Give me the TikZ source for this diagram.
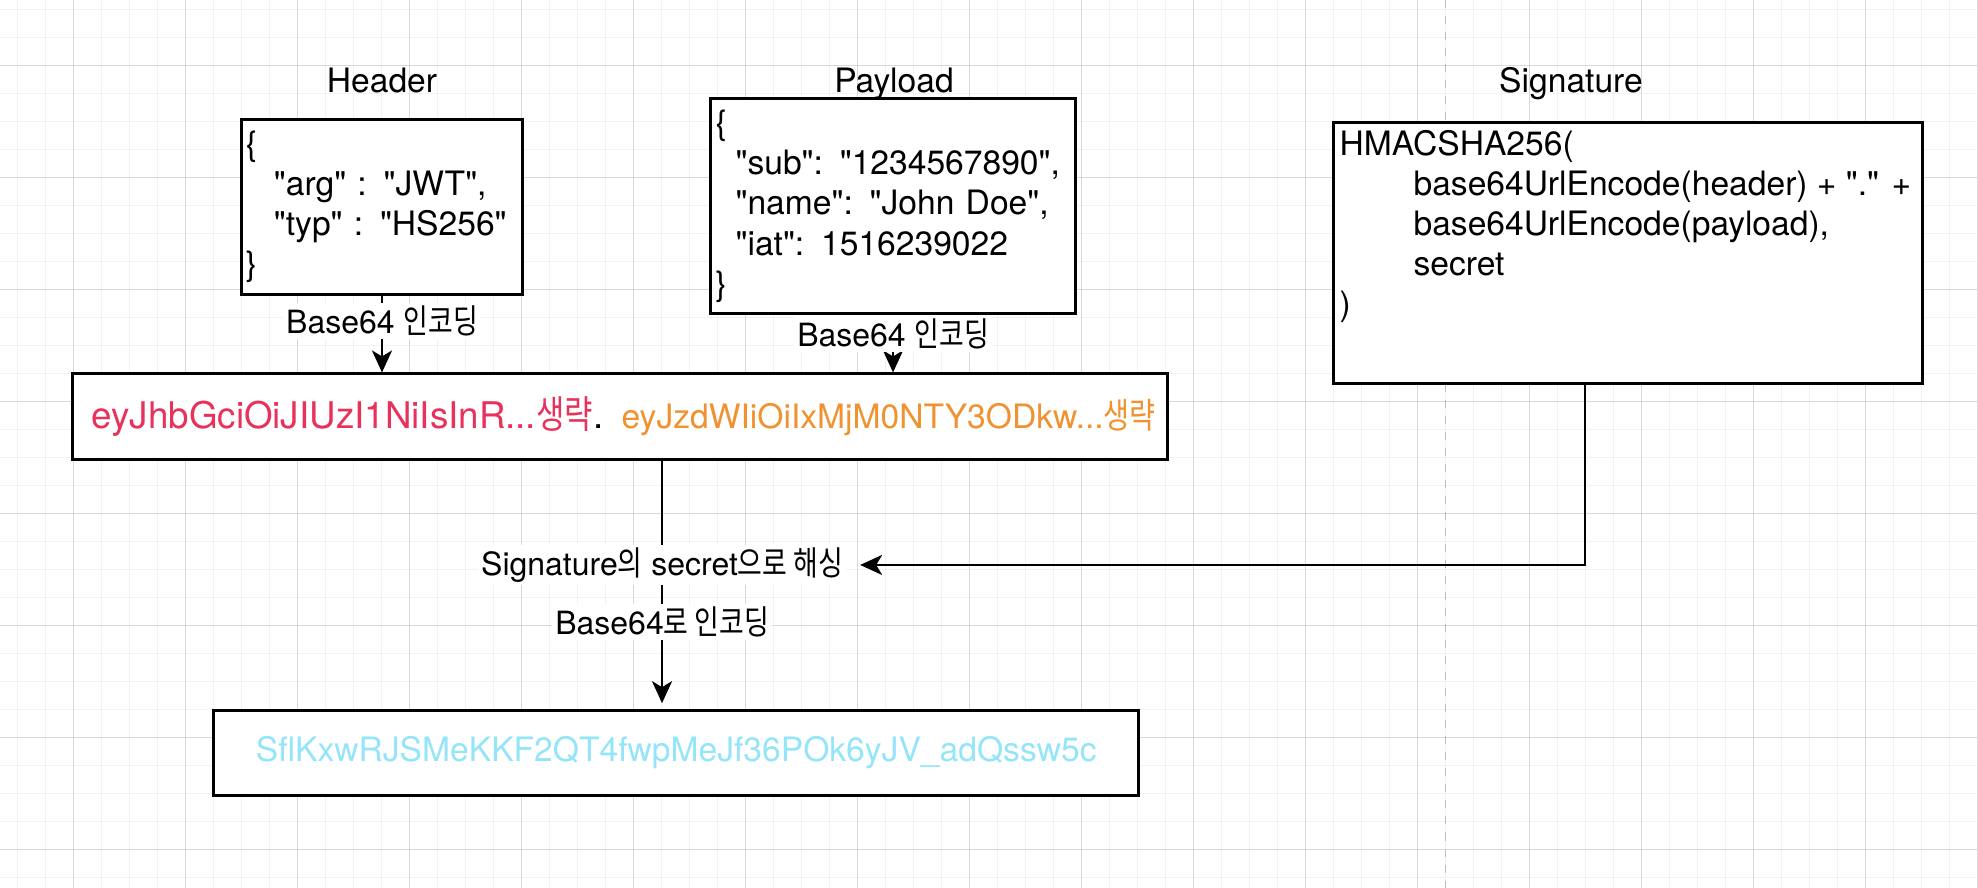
\documentclass[tikz,border=0pt]{standalone}
\usepackage{fontspec}
\setmainfont{TeX Gyre Heros}
\newfontfamily\kr[Scale=1.05]{Noto Sans CJK KR}
\usetikzlibrary{arrows.meta}

\definecolor{gridminor}{HTML}{F2F2F2}
\definecolor{gridmajor}{HTML}{D9D9D9}
\definecolor{pagebreak}{HTML}{BDBDBD}
\definecolor{hdrred}{HTML}{E8315B}
\definecolor{pldorange}{HTML}{F0922F}
\definecolor{sigcyan}{HTML}{94E4FA}

\newcommand{\ko}[1]{\scalebox{0.8}[1]{\kr #1}}
\newcommand{\q}[1]{\textquotedbl #1\textquotedbl}
\newcommand{\basefont}{\fontsize{9.56pt}{11.38pt}\selectfont}
\newcommand{\bigfont}{\fontsize{10.45pt}{12.4pt}\selectfont}
\newcommand{\lblfont}{\fontsize{9.1pt}{10.9pt}\selectfont}

\tikzset{
  box/.style={draw=black, line width=0.85pt, fill=white, font=\basefont},
  title/.style={anchor=base, font=\basefont, inner sep=0pt},
  lbl/.style={fill=white, inner sep=0.03cm, font=\lblfont},
  conn/.style={line width=0.7pt, -{Stealth[length=0.22cm, width=0.2cm, inset=0.06cm]}},
}

\begin{document}
\begin{tikzpicture}[x=0.01cm, y=-0.01cm]
\useasboundingbox (0,0) rectangle (1978,888);
\fill[white] (0,0) rectangle (1978,888);

% grid
\foreach \i in {0,...,70} \draw[gridminor, line width=0.3pt] (17.3+28*\i,0) -- (17.3+28*\i,888);
\foreach \j in {0,...,31} \draw[gridminor, line width=0.3pt] (0,9.3+28*\j) -- (1978,9.3+28*\j);
\foreach \i in {0,...,17} \draw[gridmajor, line width=0.3pt] (73.3+112*\i,0) -- (73.3+112*\i,888);
\foreach \j in {0,...,7} \draw[gridmajor, line width=0.3pt] (0,65.3+112*\j) -- (1978,65.3+112*\j);
\draw[pagebreak, line width=0.4pt, dash pattern=on 0.08cm off 0.08cm] (1445.7,0) -- (1445.7,888);

% titles
\node[title] (hdrtitle) at (382,93) {Header};
\node[title] (pldtitle) at (894,93) {Payload};
\node[title] (sigtitle) at (1571,93) {Signature};

% JSON parts
\node[box, text width=2.72cm, inner xsep=0.04cm, minimum height=1.683cm, align=left] (header) at (382,206.85)
  {\{\\ \hspace*{0.28cm}\q{arg} : \q{JWT},\\ \hspace*{0.28cm}\q{typ} : \q{HS256}\\ \}};
\node[box, text width=3.547cm, inner xsep=0.05cm, minimum height=1.96cm, align=left] (payload) at (893.05,206.3)
  {\{\\ \hspace*{0.2cm}\q{sub}: \q{1234567890},\\ \hspace*{0.2cm}\q{name}: \q{John Doe},\\ \hspace*{0.2cm}\q{iat}: 1516239022\\ \}};
\node[box, inner xsep=0.06cm, inner ysep=0pt] (sig) at (1628.15,253)
  {\parbox[c][2.606cm][t]{5.769cm}{\vspace*{0.05cm}\strut HMACSHA256(\\
   \hspace*{0.74cm}base64UrlEncode(header) + \q{.} +\\
   \hspace*{0.74cm}base64UrlEncode(payload),\\
   \hspace*{0.74cm}secret\\
   )}};

% encoded token
\node[box, minimum width=10.925cm, minimum height=0.85cm] (jwt) at (619.75,416.5)
  {\hspace*{0.08cm}{\color{hdrred}\bigfont eyJhbGciOiJIUzI1NiIsInR...\ko{생략}}{\bigfont .}\hspace{0.06cm} {\color{pldorange}eyJzdWIiOiIxMjM0NTY3ODkw...\ko{생략}}};
\node[box, minimum width=9.245cm, minimum height=0.843cm] (sighash) at (676.25,752.85)
  {\color{sigcyan}SflKxwRJSMeKKF2QT4fwpMeJf36POk6yJV\_adQssw5c};

% connectors
\draw[conn] (header) -- (header |- jwt.north) node[lbl, pos=0.33] (hdrenc) {Base64 \ko{인코딩}};
\draw[conn] (payload) -- (payload |- jwt.north) node[lbl, pos=0.32] (pldenc) {Base64 \ko{인코딩}};
\coordinate (jwtout) at ([xshift=0.4225cm]jwt.south);
\draw[conn, shorten >=0.06cm] (jwtout) -- (jwtout |- sighash.north)
  node[lbl, pos=0.42] (hashlbl) {Signature\ko{의} secret\ko{으로 해싱}}
  node[lbl, pos=0.65] (b64lbl) {Base64\ko{로 인코딩}};
\coordinate (sigout) at ([xshift=-0.4315cm]sig.south);
\draw[conn] (sigout) |- ([xshift=0.13cm]hashlbl.east);
\end{tikzpicture}
\end{document}
